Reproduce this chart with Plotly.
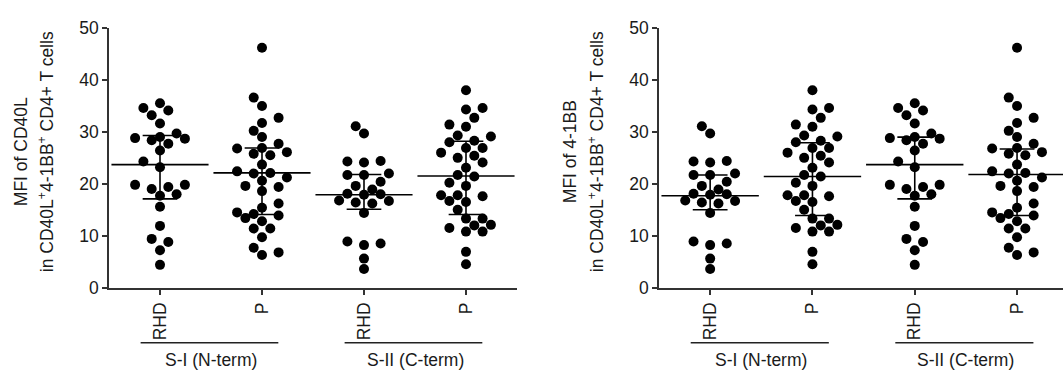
import numpy as np
import plotly.graph_objects as go

# ---------------- data ----------------
tick_labels = ["RHD", "P", "RHD", "P"]
group_labels = ["S-I (N-term)", "S-II (C-term)"]

# Left panel: MFI of CD40L
cd40l_si_rhd = [34.6, 33.2, 34.1, 35.5, 31.6, 29.7, 28.7, 27.7, 29.0, 28.4, 28.8, 26.4, 24.3,
                23.2, 19.8, 19.0, 19.4, 19.8, 17.7, 18.0, 15.6, 11.9, 9.4, 8.8, 7.2, 4.4]
cd40l_si_p = [46.2, 36.6, 35.0, 32.7, 31.7, 30.2, 29.0, 27.7, 26.1, 26.9, 25.5, 26.8, 25.8,
              23.7, 22.4, 22.0, 22.1, 21.2, 20.6, 19.4, 19.6, 18.6, 16.2, 15.4, 13.9, 14.5,
              12.8, 13.4, 14.2, 11.4, 11.4, 9.7, 7.7, 6.3, 6.8]
cd40l_sii_rhd = [31.1, 29.7, 24.3, 24.4, 24.1, 22.0, 21.7, 21.7, 20.4, 19.6, 18.9, 18.1, 17.9,
                 18.0, 16.8, 16.7, 16.4, 16.2, 14.4, 8.5, 8.2, 8.9, 5.6, 3.6]
cd40l_sii_p = [38.0, 34.3, 34.6, 32.7, 31.4, 31.0, 29.3, 29.1, 28.3, 28.0, 26.9, 26.9, 26.0,
               25.0, 25.4, 24.1, 23.1, 21.7, 21.4, 20.2, 19.6, 17.8, 17.8, 17.6, 16.7, 16.5,
               15.0, 13.3, 13.3, 12.0, 12.1, 11.5, 10.8, 10.8, 6.9, 4.5]
cd40l_median = [23.7, 22.1, 17.9, 21.5]
cd40l_q1 = [17.1, 14.1, 15.1, 14.1]
cd40l_q3 = [29.3, 26.9, 21.8, 28.2]

# Right panel: MFI of 4-1BB
bb_si_rhd = [31.1, 29.7, 24.3, 24.4, 24.1, 22.0, 21.7, 21.7, 20.4, 19.6, 18.9, 18.1, 17.9,
             18.0, 16.8, 16.7, 16.4, 16.2, 14.4, 8.5, 8.2, 8.9, 5.6, 3.6]
bb_si_p = [38.0, 34.3, 34.6, 32.7, 31.4, 31.0, 29.3, 29.1, 28.3, 28.0, 26.9, 26.9, 26.0,
           25.0, 25.4, 24.1, 23.1, 21.7, 21.4, 20.2, 19.6, 17.8, 17.8, 17.6, 16.7, 16.5,
           15.0, 13.3, 13.3, 12.0, 12.1, 11.5, 10.8, 10.8, 6.9, 4.5]
bb_sii_rhd = [34.6, 33.2, 34.1, 35.5, 31.6, 29.7, 28.7, 27.7, 29.0, 28.4, 28.8, 26.4, 24.3,
              23.2, 19.8, 19.0, 19.4, 19.8, 17.7, 18.0, 15.6, 11.9, 9.4, 8.8, 7.2, 4.4]
bb_sii_p = [46.2, 36.6, 35.0, 32.7, 31.7, 30.2, 29.0, 27.7, 26.1, 26.9, 25.5, 26.8, 25.8,
            23.7, 22.4, 22.0, 22.1, 21.2, 20.6, 19.4, 19.6, 18.6, 16.2, 15.4, 13.9, 14.5,
            12.8, 13.4, 14.2, 11.4, 11.4, 9.7, 7.7, 6.3, 6.8]
bb_median = [17.7, 21.4, 23.7, 21.8]
bb_q1 = [15.0, 13.9, 17.1, 13.9]
bb_q3 = [21.7, 27.9, 29.0, 26.7]

# ---------------- layout constants ----------------
W, H = 1063, 383
FONT = "Liberation Sans, Arial, sans-serif"
TXT = "#1a1a1a"
FS = 17.5
y_bot_px, y_top_px = 293, 19
left_px = (109, 517)
right_px = (659, 1063)
left_range = [-0.5, 3.5]
right_range = [-0.5, -0.5 + (right_px[1] - right_px[0]) / 102.3]
px_per_y = (y_bot_px - y_top_px) / 50.0


def swarm(vals, px_x, step_px=8.3, dmin=10.5, kmax=3):
    """Deterministic beeswarm: each point takes the most central free slot."""
    vals = np.asarray(vals, float)
    order = np.argsort(vals)
    placed = []
    offs = np.zeros(len(vals))
    bal = 0.0
    for i in order:
        y = vals[i] * px_per_y
        chosen = None
        best, best_d = 0.0, -1.0
        for k in range(0, kmax + 1):
            cands = [0] if k == 0 else ([-k, k] if bal > 0 else [k, -k])
            for c in cands:
                x = c * step_px
                d = min([np.hypot(x - px, y - py) for px, py in placed] or [1e9])
                if d >= dmin:
                    chosen = x
                    break
                if d > best_d + 1e-9:
                    best, best_d = x, d
            if chosen is not None:
                break
        if chosen is None:
            chosen = best
        placed.append((chosen, y))
        bal += chosen
        offs[i] = chosen / px_x
    return offs


fig = go.Figure()

panels = [
    ("x", "y", [cd40l_si_rhd, cd40l_si_p, cd40l_sii_rhd, cd40l_sii_p],
     cd40l_median, cd40l_q1, cd40l_q3, left_px, left_range),
    ("x2", "y2", [bb_si_rhd, bb_si_p, bb_sii_rhd, bb_sii_p],
     bb_median, bb_q1, bb_q3, right_px, right_range),
]

for xa, ya, series, med, q1, q3, pxr, rng in panels:
    px_x = (pxr[1] - pxr[0]) / (rng[1] - rng[0])
    for ci, vals in enumerate(series):
        offs = swarm(vals, px_x)
        fig.add_trace(go.Scatter(
            x=ci + offs, y=vals, mode="markers", xaxis=xa, yaxis=ya,
            marker=dict(color="black", size=10, line=dict(width=0)),
            showlegend=False, hoverinfo="y"))
    med = np.asarray(med)
    fig.add_trace(go.Scatter(
        x=list(range(4)), y=med, mode="markers", xaxis=xa, yaxis=ya,
        marker=dict(symbol="line-ew-open", size=0.68 * px_x, color="black",
                    line=dict(color="black", width=1.6)),
        error_y=dict(type="data", symmetric=False,
                     array=np.asarray(q3) - med, arrayminus=med - np.asarray(q1),
                     color="black", thickness=1.6, width=0.17 * px_x),
        showlegend=False, hoverinfo="y"))

axis_common = dict(showgrid=False, zeroline=False, showline=True, linecolor="#333",
                   linewidth=1.5, ticks="outside", tickcolor="#333", tickwidth=1.5,
                   tickfont=dict(family=FONT, size=FS, color=TXT))

ydom = [(H - y_bot_px) / H, (H - y_top_px) / H]
fig.update_layout(
    width=W, height=H, margin=dict(l=0, r=0, t=0, b=0),
    paper_bgcolor="white", plot_bgcolor="white",
    xaxis=dict(domain=[left_px[0] / W, left_px[1] / W], range=left_range,
               tickmode="array", tickvals=list(range(4)), ticktext=tick_labels,
               tickangle=-90, ticklen=6, anchor="y", **axis_common),
    yaxis=dict(domain=ydom, range=[0, 50], tickvals=[0, 10, 20, 30, 40, 50],
               ticklen=5, anchor="x", **axis_common),
    xaxis2=dict(domain=[right_px[0] / W, right_px[1] / W], range=right_range,
                tickmode="array", tickvals=list(range(4)), ticktext=tick_labels,
                tickangle=-90, ticklen=6, anchor="y2", **axis_common),
    yaxis2=dict(domain=ydom, range=[0, 50], tickvals=[0, 10, 20, 30, 40, 50],
                ticklen=5, anchor="x2", **axis_common),
    font=dict(family=FONT, size=FS, color=TXT),
)

shapes = []
annotations = []
line_y = (H - 351) / H
text_y = (H - 369) / H
for xa in ["x", "x2"]:
    for gi, g in enumerate(group_labels):
        c = 0.5 + 2 * gi
        shapes.append(dict(type="line", xref=xa, yref="paper", x0=c - 0.69, x1=c + 0.66,
                           y0=line_y, y1=line_y, line=dict(color="#222", width=1.5)))
        annotations.append(dict(xref=xa, yref="paper", x=c, y=text_y, text=g,
                                showarrow=False, xanchor="center", yanchor="middle",
                                font=dict(family=FONT, size=FS, color=TXT)))

y_mid = 1 - 150 / H
titles = [
    (21, "MFI of CD40L"), (46, "in CD40L<sup>+</sup>4-1BB<sup>+</sup> CD4+ T cells"),
    (570, "MFI of 4-1BB"), (596, "in CD40L<sup>+</sup>4-1BB<sup>+</sup> CD4+ T cells"),
]
for xp, t in titles:
    annotations.append(dict(xref="paper", yref="paper", x=xp / W, y=y_mid, text=t,
                            textangle=-90, showarrow=False, xanchor="center",
                            yanchor="middle", font=dict(family=FONT, size=FS, color=TXT)))

fig.update_layout(shapes=shapes, annotations=annotations)
fig.write_html("out.html")
